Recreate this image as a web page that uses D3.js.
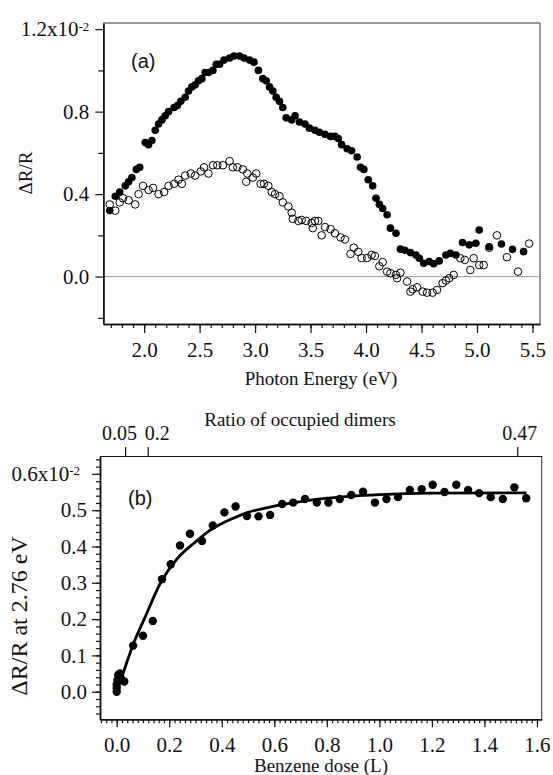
<!DOCTYPE html>
<html>
<head>
<meta charset="utf-8">
<script src="https://cdn.jsdelivr.net/npm/d3@7"></script>
<style>
    body { margin: 0; background: #fff; }
    svg { display: block; }
    .serif { font-family: 'Liberation Serif', 'Times New Roman', 'DejaVu Serif', serif; }
    .sans { font-family: 'Liberation Sans', Arial, sans-serif; }
</style>
</head>
<body>
<svg width="553" height="775"></svg>
<script>
// (a) 光子能量 (eV) 與 ΔR/R (x10^-2)，實心點
const energyFilled = [1.69, 1.74, 1.78, 1.83, 1.86, 1.89, 1.93, 1.96, 2.01, 2.04, 2.07, 2.10, 2.13, 2.16, 2.19, 2.22,
    2.27, 2.30, 2.33, 2.37, 2.40, 2.43, 2.46, 2.49, 2.52, 2.55, 2.58, 2.62, 2.65, 2.68, 2.72, 2.77, 2.81, 2.86, 2.90,
    2.95, 2.99, 3.03, 3.07, 3.10, 3.13, 3.16, 3.19, 3.22, 3.25, 3.28, 3.33, 3.36, 3.40, 3.45, 3.49, 3.54, 3.58, 3.63,
    3.68, 3.72, 3.75, 3.78, 3.83, 3.87, 3.92, 3.95, 3.98, 4.02, 4.06, 4.09, 4.12, 4.15, 4.19, 4.22, 4.27, 4.31, 4.35,
    4.40, 4.45, 4.48, 4.52, 4.57, 4.61, 4.66, 4.72, 4.76, 4.81, 4.87, 4.93, 4.99, 5.02, 5.11, 5.22, 5.32, 5.42];
const drFilled = [0.32, 0.39, 0.41, 0.44, 0.46, 0.48, 0.52, 0.53, 0.65, 0.64, 0.66, 0.71, 0.74, 0.76, 0.78, 0.80,
    0.82, 0.83, 0.85, 0.87, 0.90, 0.92, 0.93, 0.95, 0.96, 0.99, 0.99, 1.00, 1.03, 1.03, 1.05, 1.06, 1.07, 1.07, 1.06,
    1.05, 1.04, 1.00, 0.96, 0.95, 0.92, 0.90, 0.87, 0.85, 0.82, 0.77, 0.76, 0.78, 0.75, 0.74, 0.72, 0.71, 0.70, 0.69,
    0.68, 0.68, 0.67, 0.64, 0.62, 0.61, 0.58, 0.53, 0.52, 0.47, 0.44, 0.38, 0.35, 0.33, 0.30, 0.235, 0.21, 0.133, 0.128,
    0.116, 0.105, 0.089, 0.065, 0.073, 0.062, 0.076, 0.105, 0.113, 0.105, 0.165, 0.154, 0.162, 0.226, 0.145, 0.158, 0.132, 0.121];

// (a) 空心點
const energyOpen = [1.69, 1.74, 1.78, 1.81, 1.86, 1.92, 1.95, 1.99, 2.04, 2.08, 2.13, 2.18, 2.22, 2.27, 2.31, 2.34,
    2.37, 2.42, 2.46, 2.51, 2.54, 2.58, 2.62, 2.66, 2.71, 2.77, 2.80, 2.84, 2.89, 2.92, 2.93, 2.98, 3.01, 3.05, 3.08,
    3.12, 3.15, 3.18, 3.22, 3.25, 3.30, 3.33, 3.34, 3.39, 3.42, 3.46, 3.51, 3.52, 3.54, 3.57, 3.60, 3.63, 3.68, 3.72,
    3.77, 3.81, 3.86, 3.89, 3.93, 3.96, 4.01, 4.05, 4.08, 4.12, 4.15, 4.19, 4.22, 4.27, 4.28, 4.31, 4.37, 4.40, 4.42,
    4.46, 4.51, 4.55, 4.60, 4.64, 4.69, 4.72, 4.75, 4.79, 4.85, 4.89, 4.94, 4.97, 5.02, 5.06, 5.11, 5.18, 5.27, 5.37, 5.47];
const drOpen = [0.35, 0.32, 0.36, 0.38, 0.37, 0.35, 0.40, 0.44, 0.42, 0.43, 0.40, 0.41, 0.44, 0.45, 0.47, 0.45,
    0.49, 0.50, 0.49, 0.51, 0.53, 0.50, 0.54, 0.54, 0.54, 0.56, 0.53, 0.53, 0.52, 0.46, 0.50, 0.48, 0.50, 0.45, 0.45,
    0.44, 0.41, 0.40, 0.39, 0.36, 0.34, 0.31, 0.28, 0.27, 0.275, 0.27, 0.26, 0.235, 0.27, 0.27, 0.20, 0.24, 0.23, 0.21,
    0.19, 0.18, 0.11, 0.14, 0.12, 0.09, 0.09, 0.105, 0.10, 0.05, 0.07, 0.024, 0.016, 0.008, -0.008, 0.019, -0.024, -0.073, -0.061,
    -0.052, -0.073, -0.078, -0.078, -0.065, -0.032, -0.019, -0.008, 0.008, 0.089, 0.081, 0.032, 0.089, 0.056, 0.056, 0.14, 0.20, 0.094, 0.024, 0.16];

// (b) 苯曝露量 (L) 與 2.76 eV 的 ΔR/R
const doseData = [0.0, 0.0, 0.0, 0.003, 0.006, 0.012, 0.015, 0.029, 0.0625, 0.10, 0.1375, 0.1725, 0.206, 0.241, 0.279,
    0.325, 0.366, 0.41, 0.4525, 0.496, 0.54, 0.584, 0.63, 0.672, 0.717, 0.762, 0.806, 0.849, 0.893, 0.938, 0.983,
    1.027, 1.071, 1.116, 1.161, 1.203, 1.248, 1.293, 1.338, 1.38, 1.424, 1.47, 1.514, 1.559];
const drDose = [0.0, 0.01, 0.02, 0.032, 0.046, 0.05, 0.037, 0.028, 0.127, 0.154, 0.195, 0.31, 0.351, 0.403, 0.435,
    0.415, 0.458, 0.494, 0.51, 0.484, 0.483, 0.487, 0.517, 0.521, 0.531, 0.521, 0.521, 0.531, 0.542, 0.551, 0.521,
    0.531, 0.536, 0.556, 0.558, 0.57, 0.55, 0.57, 0.556, 0.547, 0.536, 0.531, 0.563, 0.533];

// (b) 擬合曲線
const fitDose = [0.015, 0.062, 0.106, 0.169, 0.231, 0.294, 0.356, 0.444, 0.5, 0.6, 0.8, 1.0, 1.2, 1.56];
const fitDr = [0.03, 0.129, 0.202, 0.303, 0.367, 0.409, 0.445, 0.478, 0.494, 0.511, 0.533, 0.543, 0.547, 0.548];

// 刻度
const xTicksA = [2.0, 2.5, 3.0, 3.5, 4.0, 4.5, 5.0, 5.5];
const yTicksA = [0.0, 0.4, 0.8, 1.2];
const yMinorA = [-0.2, 0.2, 0.6, 1.0];
const xTicksB = [0.0, 0.2, 0.4, 0.6, 0.8, 1.0, 1.2, 1.4, 1.6];
const yTicksB = [0.0, 0.1, 0.2, 0.3, 0.4, 0.5, 0.6];
const ratioLabels = ['0.05', '0.2', '0.47'];
const ratioDose = [0.032, 0.118, 1.525];

const ink = '#111';

const svg = d3.select('svg');

function styleAxis(g, size) {
    g.attr('font-size', null).attr('font-family', null);
    g.selectAll('path.domain').attr('stroke', ink).attr('stroke-width', 1.5);
    g.selectAll('.tick line').attr('stroke', ink).attr('stroke-width', 1.2);
    g.selectAll('.tick text')
        .attr('class', 'serif')
        .style('font-size', size + 'px')
        .attr('fill', ink);
}

// 加上 x10^-2
function addExponent(g, value, label, dx) {
    g.selectAll('.tick text')
        .filter(d => Math.abs(d - value) < 1e-9)
        .each(function () {
            const t = d3.select(this).text(label);
            if (dx !== undefined) t.attr('x', dx);
            t.append('tspan').attr('dy', '-0.45em').style('font-size', '13px').text('-2');
        });
}

function addText(g, cls, size, x, y, str, anchor) {
    return g.append('text')
        .attr('class', cls)
        .attr('x', x).attr('y', y)
        .attr('text-anchor', anchor || 'start')
        .style('font-size', size + 'px')
        .attr('fill', ink)
        .text(str);
}

// ===== (a) =====
const xA = d3.scaleLinear().domain([1.632, 5.568]).range([103.3, 540]);
const yA = d3.scaleLinear().domain([-0.23, 1.23]).range([324, 23]);
const gA = svg.append('g');

// 外框
gA.append('path')
    .attr('d', `M${xA.range()[0]},${yA.range()[1]}H${xA.range()[1]}V${yA.range()[0]}`)
    .attr('fill', 'none')
    .attr('stroke', '#333')
    .attr('stroke-width', 1);

// 零線
gA.append('line')
    .attr('x1', xA.range()[0]).attr('x2', xA.range()[1])
    .attr('y1', yA(0)).attr('y2', yA(0))
    .attr('stroke', '#999')
    .attr('stroke-width', 1);

const xMinorA = d3.range(17, 56).map(d => d / 10);
gA.append('g')
    .attr('transform', `translate(0,${yA.range()[0]})`)
    .call(d3.axisBottom(xA).tickValues(xMinorA).tickSize(4).tickSizeOuter(0).tickFormat(''))
    .call(g => styleAxis(g, 21));
gA.append('g')
    .attr('transform', `translate(0,${yA.range()[0]})`)
    .call(d3.axisBottom(xA).tickValues(xTicksA).tickSize(9).tickSizeOuter(0).tickPadding(9).tickFormat(d3.format('.1f')))
    .call(g => styleAxis(g, 21));

gA.append('g')
    .attr('transform', `translate(${xA.range()[0]},0)`)
    .call(d3.axisLeft(yA).tickValues(yMinorA).tickSize(5).tickSizeOuter(0).tickFormat(''))
    .call(g => styleAxis(g, 21));
gA.append('g')
    .attr('transform', `translate(${xA.range()[0]},0)`)
    .call(d3.axisLeft(yA).tickValues(yTicksA).tickSize(8).tickSizeOuter(0).tickPadding(6).tickFormat(d3.format('.1f')))
    .call(g => styleAxis(g, 21))
    .call(g => addExponent(g, 1.2, '1.2x10'));

gA.selectAll('circle.open')
    .data(d3.zip(energyOpen, drOpen))
    .join('circle')
    .attr('class', 'open')
    .attr('cx', d => xA(d[0]))
    .attr('cy', d => yA(d[1]))
    .attr('r', 3.8)
    .attr('fill', 'none')
    .attr('stroke', '#000')
    .attr('stroke-width', 1);

gA.selectAll('circle.filled')
    .data(d3.zip(energyFilled, drFilled))
    .join('circle')
    .attr('class', 'filled')
    .attr('cx', d => xA(d[0]))
    .attr('cy', d => yA(d[1]))
    .attr('r', 3.8)
    .attr('fill', '#000');

addText(gA, 'sans', 20, 131, 68, '(a)');
addText(gA, 'serif', 19, 0, 0, 'ΔR/R', 'middle')
    .attr('transform', 'translate(32,173) rotate(-90)');
addText(gA, 'serif', 19, 321, 385, 'Photon Energy (eV)', 'middle');

// ===== (b) =====
const xB = d3.scaleLinear().domain([-0.0636, 1.618]).range([100, 541.7]);
const yB = d3.scaleLinear().domain([-0.076, 0.6493]).range([719.3, 456]);
const gB = svg.append('g');

gB.append('line')
    .attr('x1', xB.range()[1]).attr('x2', xB.range()[1])
    .attr('y1', yB.range()[0]).attr('y2', yB.range()[1])
    .attr('stroke', '#333')
    .attr('stroke-width', 1);

const xMinorB = d3.range(-3, 81).map(d => d * 0.02);
const yMinorB = d3.range(-3, 33).map(d => d * 0.02);

gB.append('g')
    .attr('transform', `translate(0,${yB.range()[0]})`)
    .call(d3.axisBottom(xB).tickValues(xMinorB).tickSize(4).tickSizeOuter(0).tickFormat(''))
    .call(g => styleAxis(g, 21));
gB.append('g')
    .attr('transform', `translate(0,${yB.range()[0]})`)
    .call(d3.axisBottom(xB).tickValues(xTicksB).tickSize(8).tickSizeOuter(0).tickPadding(10).tickFormat(d3.format('.1f')))
    .call(g => styleAxis(g, 21));

gB.append('g')
    .attr('transform', `translate(${xB.range()[0]},0)`)
    .call(d3.axisLeft(yB).tickValues(yMinorB).tickSize(4).tickSizeOuter(0).tickFormat(''))
    .call(g => styleAxis(g, 21));
gB.append('g')
    .attr('transform', `translate(${xB.range()[0]},0)`)
    .call(d3.axisLeft(yB).tickValues(yTicksB).tickSize(8).tickSizeOuter(0).tickPadding(5).tickFormat(d3.format('.1f')))
    .call(g => styleAxis(g, 21))
    .call(g => addExponent(g, 0.6, '0.6x10', -20));

// 上方的佔據比例軸，標籤稍微錯開
const ratioShift = [-6, 9, 2];
gB.append('g')
    .attr('transform', `translate(0,${yB.range()[1]})`)
    .call(d3.axisTop(xB).tickValues(ratioDose).tickSize(9).tickSizeOuter(0).tickPadding(7)
        .tickFormat((d, i) => ratioLabels[i]))
    .call(g => styleAxis(g, 20))
    .call(g => g.select('path.domain').attr('stroke-width', 1.2))
    .call(g => g.selectAll('.tick text').attr('dx', (d, i) => ratioShift[i]));

const fitLine = d3.line()
    .x(d => xB(d[0]))
    .y(d => yB(d[1]))
    .curve(d3.curveMonotoneX);

gB.append('path')
    .datum(d3.zip(fitDose, fitDr))
    .attr('d', fitLine)
    .attr('fill', 'none')
    .attr('stroke', '#000')
    .attr('stroke-width', 2.8);

gB.selectAll('circle')
    .data(d3.zip(doseData, drDose))
    .join('circle')
    .attr('cx', d => xB(d[0]))
    .attr('cy', d => yB(d[1]))
    .attr('r', 4.2)
    .attr('fill', '#000');

addText(gB, 'sans', 20, 128, 505, '(b)');
addText(gB, 'serif', 19, 300, 426, 'Ratio of occupied dimers', 'middle');
addText(gB, 'serif', 24, 0, 0, 'ΔR/R at 2.76 eV', 'middle')
    .attr('transform', 'translate(27,616) rotate(-90)');
addText(gB, 'serif', 19, 321, 772, 'Benzene dose (L)', 'middle');
</script>
</body>
</html>
